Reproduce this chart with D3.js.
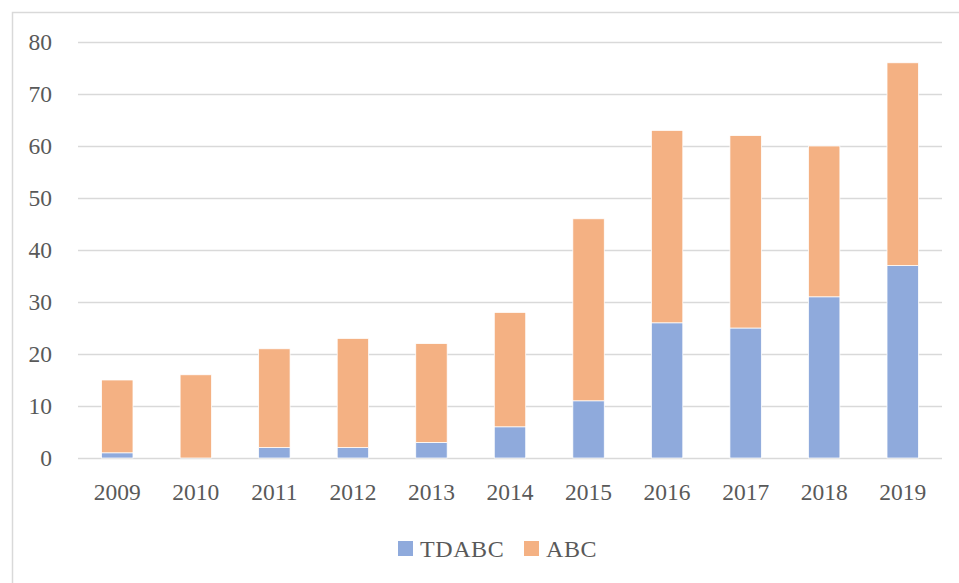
<!DOCTYPE html>
<html lang="en">
<head>
<meta charset="utf-8">
<script src="https://d3js.org/d3.v7.min.js"></script>
<style>
body { margin: 0; background: #fff; }
svg text { font-family: "Liberation Serif", "DejaVu Serif", serif; fill: #595959; }
</style>
</head>
<body>
<div id="chart"></div>
<script>
var years = ["2009","2010","2011","2012","2013","2014","2015","2016","2017","2018","2019"];
var tdabc = [1, 0, 2, 2, 3, 6, 11, 26, 25, 31, 37];
var abc   = [14, 16, 19, 21, 19, 22, 35, 37, 37, 29, 39];
var seriesNames = ["TDABC", "ABC"];
var colors = ["#8faadc", "#f4b183"];
var yTicks = [0, 10, 20, 30, 40, 50, 60, 70, 80];

var width = 959, height = 583;
var svg = d3.select("#chart").append("svg")
  .attr("width", width).attr("height", height);

// chart frame (runs off the right and bottom of the picture)
svg.append("rect")
  .attr("x", 12.5).attr("y", 12.5)
  .attr("width", 1000).attr("height", 1000)
  .attr("fill", "none").attr("stroke", "#d9d9d9").attr("stroke-width", 1.5);

var x = d3.scaleBand().domain(years).range([78, 942]).paddingInner(0.6).paddingOuter(0.3);
var y = d3.scaleLinear().domain([0, 80]).range([458, 42]);

// gridlines
svg.append("g").selectAll("line").data(yTicks).enter().append("line")
  .attr("x1", 78).attr("x2", 942)
  .attr("y1", function(d) { return Math.round(y(d)) + 0.5; })
  .attr("y2", function(d) { return Math.round(y(d)) + 0.5; })
  .attr("stroke", "#d9d9d9").attr("stroke-width", 1.5);

// y labels
svg.append("g").selectAll("text").data(yTicks).enter().append("text")
  .attr("x", 52).attr("y", function(d) { return y(d); })
  .attr("dy", "0.35em").attr("text-anchor", "end")
  .style("font-size", "23.5px")
  .text(function(d) { return d; });

// stacked bars
var table = years.map(function(yr, i) { return { year: yr, TDABC: tdabc[i], ABC: abc[i] }; });
var stack = d3.stack().keys(seriesNames)(table);

svg.append("g").selectAll("g").data(stack).enter().append("g")
  .attr("fill", function(d, i) { return colors[i]; })
  .selectAll("rect").data(function(d) { return d; }).enter().append("rect")
  .attr("x", function(d) { return x(d.data.year); })
  .attr("width", x.bandwidth())
  .attr("y", function(d) { return y(d[1]); })
  .attr("height", function(d) { return y(d[0]) - y(d[1]); })
  .attr("stroke", "#fff").attr("stroke-width", 0.75);

// x labels
svg.append("g").selectAll("text").data(years).enter().append("text")
  .attr("x", function(d) { return x(d) + x.bandwidth() / 2; })
  .attr("y", 500).attr("text-anchor", "middle")
  .style("font-size", "23.5px")
  .text(function(d) { return d; });

// legend
var legX = [398, 524];
var leg = svg.append("g").selectAll("g").data(seriesNames).enter().append("g")
  .attr("transform", function(d, i) { return "translate(" + legX[i] + ",541)"; });
leg.append("rect").attr("width", 15).attr("height", 15)
  .attr("fill", function(d, i) { return colors[i]; });
leg.append("text").attr("x", 22).attr("y", 15.5)
  .style("font-size", "24px").style("letter-spacing", "0.6px")
  .text(function(d) { return d; });
</script>
</body>
</html>
